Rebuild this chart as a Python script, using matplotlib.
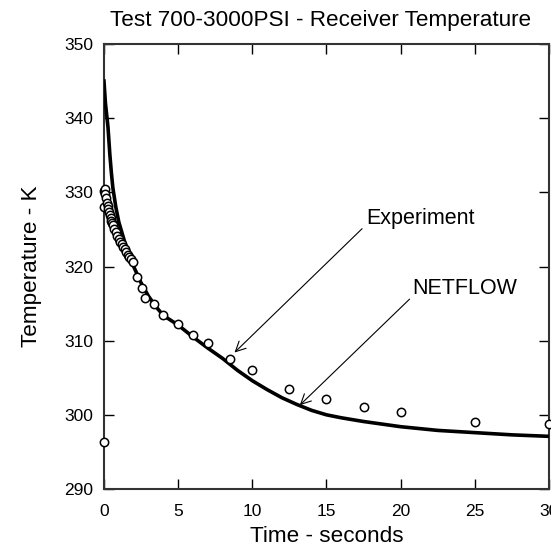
import matplotlib
matplotlib.use("Agg")
import matplotlib.pyplot as plt

plt.rcParams['font.family'] = ['Liberation Sans', 'DejaVu Sans']

# NETFLOW simulation curve
sim_time = [0.0, 0.1, 0.27, 0.4, 0.5, 0.6, 0.8, 1.0, 1.5, 2.0, 2.5, 3.0,
            3.5, 4.0, 5.0, 6.0, 7.0, 8.0, 9.0, 10.0, 11.0, 12.0, 13.0,
            14.0, 15.0, 16.0, 17.5, 20.0, 22.5, 25.0, 27.5, 30.0]
sim_temp = [345.0, 342.0, 338.8, 335.0, 332.6, 330.6, 328.0, 326.0, 322.6,
            320.0, 317.8, 316.0, 314.6, 313.4, 312.1, 310.5, 309.0, 307.6,
            306.0, 304.6, 303.4, 302.3, 301.4, 300.6, 300.0, 299.6, 299.1,
            298.4, 297.9, 297.6, 297.3, 297.1]

# experimental measurements
exp_time = [0.0, 0.0, 0.0, 0.05, 0.1, 0.15, 0.2, 0.25, 0.3, 0.35, 0.4,
            0.45, 0.5, 0.55, 0.6, 0.7, 0.8, 0.9, 1.0, 1.1, 1.2, 1.3, 1.4,
            1.5, 1.6, 1.7, 1.8, 1.95, 2.2, 2.55, 2.75, 3.4, 4.0, 5.0, 6.0,
            7.0, 8.5, 10.0, 12.5, 15.0, 17.5, 20.0, 25.0, 30.0]
exp_temp = [296.3, 328.0, 330.2, 330.5, 329.8, 329.2, 328.6, 328.2, 327.8,
            327.3, 327.0, 326.6, 326.2, 325.9, 325.6, 325.0, 324.6, 324.1,
            323.7, 323.3, 323.0, 322.6, 322.3, 321.9, 321.6, 321.3, 321.0,
            320.6, 318.6, 317.1, 315.8, 315.0, 313.5, 312.3, 310.8, 309.7,
            307.5, 306.1, 303.5, 302.2, 301.0, 300.4, 299.1, 298.7]

x_ticks = [0, 5, 10, 15, 20, 25, 30]
y_ticks = [290, 300, 310, 320, 330, 340, 350]

fig = plt.figure(figsize=(5.51, 5.46), dpi=100)
ax = fig.add_axes([0.1887, 0.1044, 0.8077, 0.815])

ax.plot(sim_time, sim_temp, color='black', lw=2.6, zorder=3)
ax.plot(exp_time, exp_temp, 'o', mfc='white', mec='black', ms=6, mew=1.1,
        clip_on=False, zorder=4)

ax.set_xlim(0, 30)
ax.set_ylim(290, 350)
ax.set_xticks(x_ticks)
ax.set_yticks(y_ticks)
ax.tick_params(direction='in', length=7, width=1, top=True, right=True,
               labelsize=12.5)
ax.tick_params(axis='x', pad=11)
ax.tick_params(axis='y', pad=8)
for s in ax.spines.values():
    s.set_linewidth(1.5)
    s.set_color('#333333')

ax.set_title('Test 700-3000PSI - Receiver Temperature', fontsize=16.2,
             pad=13, x=0.487)
ax.set_xlabel('Time - seconds', fontsize=16.2, labelpad=5)
ax.set_ylabel('Temperature - K', fontsize=16.2, labelpad=16)

# labels with arrows
arrow = dict(arrowstyle='->', lw=0.8, color='black',
             mutation_scale=18, shrinkA=0, shrinkB=0)
ax.text(17.7, 326.5, 'Experiment', fontsize=15.5, va='center', ha='left')
ax.annotate('', xy=(8.8, 308.4), xytext=(17.4, 325.1), arrowprops=arrow)
ax.text(20.8, 317.1, 'NETFLOW', fontsize=15.5, va='center', ha='left')
ax.annotate('', xy=(13.2, 301.3), xytext=(20.6, 315.6), arrowprops=arrow)

plt.savefig('out.png', dpi=100)
